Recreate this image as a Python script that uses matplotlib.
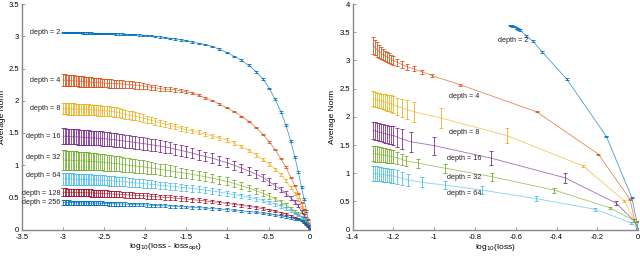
import matplotlib
matplotlib.use("Agg")
import matplotlib.pyplot as plt
from matplotlib.ticker import FormatStrFormatter

plt.rcParams['font.family'] = ['Liberation Sans', 'DejaVu Sans']

# matlab default colour order
colors = ['#0072BD', '#D95319', '#EDB120', '#7E2F8E', '#77AC30', '#4DBEEE', '#A2142F', '#0072BD']

# ---- left panel: norm vs log10(loss - loss_opt)
depths_left = ['2', '4', '8', '16', '32', '64', '128', '256']
x_left = [-3.00, -2.98, -2.96, -2.94, -2.92, -2.90, -2.88, -2.86, -2.84, -2.82, -2.80,
          -2.78, -2.76, -2.74, -2.72, -2.70, -2.68, -2.66, -2.64, -2.62, -2.60,
          -2.575, -2.55, -2.525, -2.50, -2.47, -2.44, -2.41, -2.38, -2.35, -2.32,
          -2.28, -2.24, -2.20, -2.16, -2.12, -2.08, -2.03, -1.98, -1.93, -1.88,
          -1.82, -1.76, -1.70, -1.64, -1.57, -1.50, -1.43, -1.35, -1.27, -1.19,
          -1.10, -1.01, -0.92, -0.83, -0.74, -0.65, -0.57, -0.49, -0.42, -0.35,
          -0.29, -0.23, -0.18, -0.14, -0.10, -0.07, -0.04, -0.02, 0.00]

y_d2 = [3.06, 3.06, 3.06, 3.06, 3.06, 3.058, 3.058, 3.056, 3.056, 3.055, 3.055,
        3.054, 3.053, 3.052, 3.052, 3.051, 3.05, 3.05, 3.049, 3.048, 3.047,
        3.046, 3.045, 3.045, 3.044, 3.043, 3.042, 3.041, 3.04, 3.038, 3.037,
        3.035, 3.033, 3.03, 3.028, 3.025, 3.022, 3.018, 3.014, 3.008, 3.0,
        2.99, 2.98, 2.97, 2.96, 2.945, 2.93, 2.91, 2.89, 2.87, 2.845,
        2.80, 2.75, 2.69, 2.63, 2.55, 2.45, 2.34, 2.19, 2.02, 1.83,
        1.62, 1.37, 1.12, 0.90, 0.66, 0.48, 0.29, 0.16, 0.02]
e_d2 = [0.01, 0.01, 0.01, 0.01, 0.01, 0.01, 0.01, 0.01, 0.01, 0.01, 0.01,
        0.01, 0.01, 0.01, 0.01, 0.01, 0.01, 0.01, 0.01, 0.01, 0.01,
        0.01, 0.01, 0.01, 0.01, 0.01, 0.01, 0.01, 0.01, 0.01, 0.01,
        0.01, 0.01, 0.01, 0.01, 0.01, 0.01, 0.01, 0.01, 0.01, 0.01,
        0.01, 0.01, 0.01, 0.01, 0.01, 0.01, 0.01, 0.01, 0.01, 0.01,
        0.012, 0.012, 0.012, 0.013, 0.013, 0.014, 0.014, 0.015, 0.015, 0.015,
        0.015, 0.015, 0.015, 0.015, 0.014, 0.013, 0.012, 0.01, 0.01]

y_d4 = [2.32, 2.32, 2.318, 2.316, 2.314, 2.312, 2.31, 2.308, 2.306, 2.304, 2.302,
        2.30, 2.298, 2.296, 2.294, 2.292, 2.29, 2.288, 2.286, 2.284, 2.282,
        2.28, 2.278, 2.276, 2.274, 2.272, 2.27, 2.268, 2.266, 2.264, 2.262,
        2.26, 2.255, 2.25, 2.245, 2.24, 2.235, 2.23, 2.22, 2.21, 2.20,
        2.19, 2.18, 2.175, 2.17, 2.155, 2.14, 2.12, 2.085, 2.045, 2.005,
        1.95, 1.89, 1.83, 1.76, 1.68, 1.58, 1.48, 1.36, 1.24, 1.10,
        0.97, 0.81, 0.68, 0.56, 0.42, 0.31, 0.19, 0.11, 0.02]
e_d4 = [0.09, 0.09, 0.089, 0.088, 0.087, 0.086, 0.085, 0.084, 0.083, 0.082, 0.081,
        0.08, 0.079, 0.078, 0.077, 0.076, 0.075, 0.074, 0.073, 0.072, 0.071,
        0.07, 0.069, 0.068, 0.067, 0.066, 0.065, 0.064, 0.063, 0.062, 0.061,
        0.06, 0.058, 0.056, 0.054, 0.052, 0.05, 0.048, 0.045, 0.042, 0.04,
        0.037, 0.034, 0.031, 0.028, 0.025, 0.022, 0.018, 0.015, 0.012, 0.01,
        0.01, 0.01, 0.01, 0.01, 0.01, 0.01, 0.01, 0.01, 0.01, 0.01,
        0.01, 0.01, 0.01, 0.01, 0.01, 0.01, 0.01, 0.01, 0.01]

y_d8 = [1.88, 1.88, 1.878, 1.876, 1.875, 1.874, 1.872, 1.87, 1.869, 1.868, 1.867,
        1.866, 1.865, 1.864, 1.862, 1.86, 1.859, 1.858, 1.856, 1.855, 1.853,
        1.851, 1.849, 1.847, 1.845, 1.842, 1.838, 1.834, 1.829, 1.824, 1.818,
        1.80, 1.79, 1.78, 1.77, 1.76, 1.745, 1.73, 1.715, 1.70, 1.68,
        1.66, 1.64, 1.62, 1.60, 1.575, 1.55, 1.53, 1.51, 1.48, 1.455,
        1.42, 1.39, 1.34, 1.29, 1.23, 1.16, 1.09, 1.02, 0.94, 0.85,
        0.76, 0.65, 0.56, 0.47, 0.35, 0.27, 0.17, 0.10, 0.02]
e_d8 = [0.09, 0.09, 0.09, 0.09, 0.09, 0.09, 0.089, 0.088, 0.088, 0.087, 0.086,
        0.086, 0.085, 0.085, 0.084, 0.084, 0.083, 0.083, 0.082, 0.082, 0.081,
        0.08, 0.08, 0.079, 0.078, 0.077, 0.076, 0.075, 0.074, 0.073, 0.072,
        0.07, 0.068, 0.066, 0.064, 0.062, 0.06, 0.058, 0.055, 0.052, 0.05,
        0.047, 0.044, 0.041, 0.039, 0.037, 0.035, 0.034, 0.033, 0.032, 0.031,
        0.03, 0.03, 0.03, 0.029, 0.028, 0.027, 0.026, 0.025, 0.024, 0.023,
        0.022, 0.021, 0.02, 0.02, 0.018, 0.016, 0.014, 0.012, 0.01]

y_d16 = [1.45, 1.45, 1.448, 1.446, 1.445, 1.444, 1.442, 1.44, 1.439, 1.438, 1.437,
         1.436, 1.434, 1.432, 1.43, 1.428, 1.426, 1.425, 1.424, 1.422, 1.42,
         1.418, 1.416, 1.414, 1.412, 1.408, 1.404, 1.40, 1.396, 1.392, 1.387,
         1.38, 1.374, 1.367, 1.36, 1.352, 1.345, 1.337, 1.328, 1.318, 1.308,
         1.296, 1.284, 1.27, 1.25, 1.23, 1.21, 1.19, 1.16, 1.135, 1.11,
         1.075, 1.04, 1.00, 0.955, 0.91, 0.86, 0.81, 0.745, 0.68, 0.62,
         0.56, 0.49, 0.43, 0.37, 0.28, 0.22, 0.14, 0.08, 0.02]
e_d16 = [0.12, 0.12, 0.12, 0.12, 0.119, 0.119, 0.118, 0.118, 0.117, 0.117, 0.116,
         0.116, 0.115, 0.115, 0.114, 0.114, 0.113, 0.113, 0.112, 0.112, 0.111,
         0.111, 0.11, 0.11, 0.11, 0.109, 0.108, 0.107, 0.106, 0.105, 0.104,
         0.103, 0.102, 0.101, 0.10, 0.099, 0.098, 0.097, 0.096, 0.095, 0.093,
         0.091, 0.089, 0.088, 0.086, 0.084, 0.082, 0.08, 0.079, 0.077, 0.075,
         0.073, 0.07, 0.067, 0.064, 0.061, 0.058, 0.055, 0.051, 0.047, 0.043,
         0.039, 0.034, 0.03, 0.026, 0.022, 0.018, 0.014, 0.012, 0.01]

y_d32 = [1.08, 1.08, 1.078, 1.077, 1.076, 1.075, 1.074, 1.072, 1.071, 1.07, 1.069,
         1.068, 1.066, 1.065, 1.063, 1.062, 1.06, 1.058, 1.056, 1.054, 1.052,
         1.05, 1.048, 1.046, 1.044, 1.04, 1.036, 1.032, 1.028, 1.024, 1.02,
         1.01, 1.005, 1.0, 0.994, 0.988, 0.982, 0.975, 0.966, 0.957, 0.948,
         0.937, 0.925, 0.913, 0.90, 0.886, 0.872, 0.857, 0.84, 0.82, 0.80,
         0.775, 0.748, 0.718, 0.682, 0.645, 0.605, 0.565, 0.52, 0.475, 0.43,
         0.385, 0.33, 0.285, 0.245, 0.19, 0.15, 0.10, 0.06, 0.02]
e_d32 = [0.15, 0.15, 0.149, 0.148, 0.147, 0.146, 0.145, 0.144, 0.143, 0.142, 0.141,
         0.14, 0.139, 0.138, 0.137, 0.136, 0.135, 0.134, 0.133, 0.132, 0.131,
         0.13, 0.129, 0.128, 0.127, 0.125, 0.123, 0.121, 0.119, 0.117, 0.115,
         0.113, 0.111, 0.109, 0.107, 0.105, 0.103, 0.101, 0.098, 0.095, 0.092,
         0.089, 0.086, 0.083, 0.08, 0.078, 0.076, 0.074, 0.072, 0.07, 0.068,
         0.065, 0.062, 0.059, 0.056, 0.052, 0.048, 0.045, 0.041, 0.038, 0.034,
         0.031, 0.028, 0.025, 0.022, 0.019, 0.016, 0.013, 0.011, 0.01]

y_d64 = [0.79, 0.79, 0.789, 0.788, 0.787, 0.786, 0.785, 0.784, 0.783, 0.782, 0.781,
         0.78, 0.779, 0.778, 0.777, 0.776, 0.775, 0.774, 0.773, 0.772, 0.771,
         0.77, 0.768, 0.767, 0.765, 0.763, 0.76, 0.757, 0.754, 0.751, 0.748,
         0.744, 0.74, 0.736, 0.731, 0.726, 0.721, 0.715, 0.709, 0.703, 0.697,
         0.69, 0.683, 0.675, 0.667, 0.658, 0.649, 0.639, 0.627, 0.614, 0.60,
         0.583, 0.565, 0.546, 0.525, 0.503, 0.478, 0.453, 0.425, 0.395, 0.362,
         0.332, 0.295, 0.262, 0.23, 0.19, 0.155, 0.11, 0.07, 0.02]
e_d64 = [0.09, 0.09, 0.09, 0.089, 0.089, 0.088, 0.088, 0.087, 0.087, 0.086, 0.086,
         0.085, 0.085, 0.084, 0.084, 0.083, 0.083, 0.082, 0.082, 0.081, 0.081,
         0.08, 0.08, 0.079, 0.078, 0.077, 0.076, 0.075, 0.074, 0.073, 0.072,
         0.071, 0.07, 0.069, 0.068, 0.067, 0.066, 0.064, 0.062, 0.06, 0.058,
         0.056, 0.054, 0.053, 0.052, 0.051, 0.05, 0.048, 0.046, 0.044, 0.042,
         0.04, 0.038, 0.036, 0.034, 0.032, 0.03, 0.028, 0.026, 0.024, 0.022,
         0.021, 0.02, 0.018, 0.016, 0.014, 0.012, 0.011, 0.01, 0.01]

y_d128 = [0.58, 0.58, 0.579, 0.579, 0.578, 0.578, 0.577, 0.576, 0.576, 0.575, 0.575,
          0.574, 0.573, 0.572, 0.572, 0.571, 0.57, 0.569, 0.568, 0.567, 0.566,
          0.565, 0.564, 0.562, 0.56, 0.558, 0.556, 0.554, 0.552, 0.55, 0.548,
          0.545, 0.542, 0.539, 0.536, 0.533, 0.53, 0.526, 0.521, 0.517, 0.512,
          0.507, 0.502, 0.496, 0.49, 0.482, 0.475, 0.466, 0.456, 0.445, 0.434,
          0.422, 0.408, 0.394, 0.378, 0.362, 0.344, 0.326, 0.306, 0.285, 0.262,
          0.24, 0.215, 0.19, 0.17, 0.14, 0.115, 0.085, 0.055, 0.02]
e_d128 = [0.06, 0.06, 0.06, 0.059, 0.059, 0.059, 0.058, 0.058, 0.058, 0.057, 0.057,
          0.057, 0.056, 0.056, 0.056, 0.055, 0.055, 0.055, 0.054, 0.054, 0.054,
          0.053, 0.053, 0.052, 0.052, 0.051, 0.05, 0.05, 0.049, 0.048, 0.047,
          0.046, 0.045, 0.044, 0.043, 0.042, 0.042, 0.041, 0.04, 0.039, 0.038,
          0.037, 0.036, 0.035, 0.034, 0.033, 0.032, 0.031, 0.03, 0.029, 0.028,
          0.027, 0.026, 0.025, 0.024, 0.023, 0.022, 0.021, 0.02, 0.019, 0.017,
          0.016, 0.015, 0.013, 0.012, 0.011, 0.01, 0.008, 0.007, 0.005]

y_d256 = [0.42, 0.42, 0.42, 0.419, 0.419, 0.418, 0.418, 0.417, 0.417, 0.416, 0.416,
          0.415, 0.415, 0.414, 0.414, 0.413, 0.413, 0.412, 0.412, 0.411, 0.41,
          0.41, 0.409, 0.408, 0.406, 0.405, 0.404, 0.402, 0.401, 0.40, 0.398,
          0.397, 0.395, 0.393, 0.391, 0.389, 0.387, 0.385, 0.382, 0.379, 0.376,
          0.373, 0.369, 0.366, 0.362, 0.357, 0.352, 0.347, 0.341, 0.335, 0.328,
          0.32, 0.311, 0.302, 0.291, 0.28, 0.267, 0.255, 0.241, 0.228, 0.213,
          0.199, 0.183, 0.167, 0.153, 0.135, 0.115, 0.09, 0.06, 0.02]
e_d256 = [0.035, 0.035, 0.035, 0.035, 0.034, 0.034, 0.034, 0.034, 0.034, 0.033, 0.033,
          0.033, 0.033, 0.033, 0.032, 0.032, 0.032, 0.032, 0.032, 0.031, 0.031,
          0.031, 0.031, 0.03, 0.03, 0.03, 0.03, 0.029, 0.029, 0.029, 0.028,
          0.028, 0.027, 0.027, 0.027, 0.026, 0.026, 0.026, 0.025, 0.025, 0.024,
          0.024, 0.023, 0.023, 0.022, 0.022, 0.021, 0.02, 0.02, 0.019, 0.019,
          0.018, 0.018, 0.017, 0.016, 0.016, 0.015, 0.014, 0.014, 0.013, 0.012,
          0.011, 0.011, 0.01, 0.009, 0.008, 0.007, 0.006, 0.006, 0.005]

ys_left = [y_d2, y_d4, y_d8, y_d16, y_d32, y_d64, y_d128, y_d256]
es_left = [e_d2, e_d4, e_d8, e_d16, e_d32, e_d64, e_d128, e_d256]
label_y_left = [3.06, 2.32, 1.88, 1.45, 1.12, 0.84, 0.56, 0.42]

# ---- right panel: norm vs log10(loss)
depths_right = ['2', '4', '8', '16', '32', '64']
rx_d2 = [-0.63, -0.62, -0.61, -0.60, -0.59, -0.58, -0.55, -0.515, -0.47, -0.35, -0.155, -0.031, -0.006, 0.0]
ry_d2 = [3.62, 3.61, 3.60, 3.58, 3.56, 3.54, 3.44, 3.34, 3.15, 2.67, 1.65, 0.57, 0.14, 0.02]
re_d2 = [0.015, 0.015, 0.015, 0.015, 0.015, 0.015, 0.015, 0.015, 0.015, 0.015, 0.015, 0.015, 0.01, 0.01]

rx_d4 = [-1.30, -1.29, -1.28, -1.27, -1.26, -1.25, -1.24, -1.23, -1.22, -1.21, -1.20, -1.18,
         -1.16, -1.135, -1.10, -1.06, -1.01, -0.873, -0.498, -0.195, -0.04, -0.015, 0.0]
ry_d4 = [3.27, 3.23, 3.19, 3.16, 3.13, 3.10, 3.08, 3.06, 3.04, 3.02, 3.00, 2.97,
         2.93, 2.89, 2.85, 2.80, 2.73, 2.57, 2.09, 1.34, 0.54, 0.14, 0.02]
re_d4 = [0.15, 0.14, 0.13, 0.12, 0.11, 0.10, 0.095, 0.09, 0.085, 0.08, 0.075, 0.065,
         0.055, 0.05, 0.045, 0.04, 0.025, 0.015, 0.01, 0.01, 0.01, 0.01, 0.01]

rx_d8 = [-1.30, -1.29, -1.28, -1.27, -1.26, -1.25, -1.24, -1.23, -1.22, -1.21, -1.20,
         -1.184, -1.16, -1.135, -1.098, -0.967, -0.645, -0.27, -0.067, -0.015, 0.0]
ry_d8 = [2.32, 2.31, 2.30, 2.29, 2.28, 2.27, 2.26, 2.25, 2.24, 2.23, 2.22,
         2.19, 2.16, 2.13, 2.09, 1.98, 1.67, 1.13, 0.51, 0.14, 0.02]
re_d8 = [0.13, 0.13, 0.13, 0.13, 0.13, 0.13, 0.14, 0.14, 0.14, 0.15, 0.15,
         0.15, 0.16, 0.17, 0.18, 0.18, 0.13, 0.02, 0.02, 0.01, 0.01]

rx_d16 = [-1.30, -1.29, -1.28, -1.27, -1.26, -1.25, -1.24, -1.23, -1.22, -1.21, -1.20,
          -1.18, -1.16, -1.115, -1.0, -0.723, -0.359, -0.108, -0.02, 0.0]
ry_d16 = [1.76, 1.75, 1.74, 1.73, 1.72, 1.71, 1.70, 1.69, 1.68, 1.675, 1.67,
          1.64, 1.61, 1.56, 1.49, 1.27, 0.92, 0.47, 0.16, 0.02]
re_d16 = [0.155, 0.155, 0.155, 0.155, 0.155, 0.16, 0.16, 0.16, 0.16, 0.165, 0.165,
          0.17, 0.18, 0.18, 0.16, 0.13, 0.09, 0.04, 0.02, 0.01]

rx_d32 = [-1.30, -1.29, -1.28, -1.27, -1.26, -1.25, -1.24, -1.23, -1.22, -1.21, -1.20,
          -1.18, -1.16, -1.14, -1.078, -0.947, -0.718, -0.41, -0.14, -0.02, 0.0]
ry_d32 = [1.35, 1.345, 1.34, 1.335, 1.33, 1.325, 1.32, 1.31, 1.305, 1.30, 1.29,
          1.27, 1.25, 1.22, 1.18, 1.09, 0.94, 0.70, 0.39, 0.16, 0.02]
re_d32 = [0.14, 0.14, 0.135, 0.135, 0.13, 0.13, 0.125, 0.125, 0.12, 0.12, 0.115,
          0.11, 0.10, 0.09, 0.08, 0.08, 0.07, 0.045, 0.02, 0.02, 0.01]

rx_d64 = [-1.30, -1.29, -1.28, -1.27, -1.26, -1.25, -1.24, -1.23, -1.22, -1.21, -1.20,
          -1.18, -1.16, -1.127, -1.062, -0.947, -0.764, -0.50, -0.21, -0.034, 0.0]
ry_d64 = [1.00, 0.995, 0.99, 0.985, 0.98, 0.975, 0.97, 0.965, 0.96, 0.955, 0.95,
          0.93, 0.91, 0.88, 0.84, 0.79, 0.70, 0.55, 0.36, 0.12, 0.02]
re_d64 = [0.13, 0.13, 0.13, 0.13, 0.125, 0.125, 0.125, 0.12, 0.12, 0.12, 0.12,
          0.12, 0.12, 0.10, 0.09, 0.075, 0.075, 0.045, 0.025, 0.015, 0.01]

xs_right = [rx_d2, rx_d4, rx_d8, rx_d16, rx_d32, rx_d64]
ys_right = [ry_d2, ry_d4, ry_d8, ry_d16, ry_d32, ry_d64]
es_right = [re_d2, re_d4, re_d8, re_d16, re_d32, re_d64]
label_pos_right = [(-0.613, 3.36), (-0.855, 2.37), (-0.855, 1.73), (-0.855, 1.26), (-0.855, 0.92), (-0.855, 0.64)]


def style(ax):
    for s in ['top', 'right']:
        ax.spines[s].set_visible(False)
    for s in ['left', 'bottom']:
        ax.spines[s].set_color('#888888')
        ax.spines[s].set_linewidth(1.0)
    ax.tick_params(direction='in', length=2, width=0.6, color='#888888', labelsize=5.5, pad=2)
    ax.tick_params(axis='x', pad=3)
    ax.xaxis.set_major_formatter(FormatStrFormatter('%g'))
    ax.yaxis.set_major_formatter(FormatStrFormatter('%g'))


fig = plt.figure(figsize=(6.4, 2.56), dpi=100)
ax1 = fig.add_axes([0.034, 0.103, 0.45, 0.881])
ax2 = fig.add_axes([0.551, 0.103, 0.446, 0.881])

for i in range(len(depths_left)):
    ax1.plot(x_left, ys_left[i], color=colors[i], lw=0.6, alpha=0.7)
    ax1.errorbar(x_left, ys_left[i], yerr=es_left[i], fmt='none', ecolor=colors[i],
                 elinewidth=0.6, capsize=1.5, capthick=0.6)
    ax1.text(-3.03, label_y_left[i], 'depth = ' + depths_left[i], fontsize=5.2,
             ha='right', va='center', color='#222222')

ax1.set_xlim(-3.5, 0)
ax1.set_ylim(0, 3.5)
ax1.set_xticks([-3.5, -3, -2.5, -2, -1.5, -1, -0.5, 0])
ax1.set_yticks([0, 0.5, 1, 1.5, 2, 2.5, 3, 3.5])
ax1.set_xlabel(r'log$_{10}$(loss - loss$_{\rm opt}$)', fontsize=6, labelpad=1)
ax1.set_ylabel('Average Norm', fontsize=6, labelpad=2)
style(ax1)

for i in range(len(depths_right)):
    ax2.plot(xs_right[i], ys_right[i], color=colors[i], lw=0.6, alpha=0.7)
    ax2.errorbar(xs_right[i], ys_right[i], yerr=es_right[i], fmt='none', ecolor=colors[i],
                 elinewidth=0.6, capsize=1.5, capthick=0.6)
    ax2.text(label_pos_right[i][0], label_pos_right[i][1], 'depth = ' + depths_right[i],
             fontsize=5.2, ha='center', va='center', color='#222222')

ax2.set_xlim(-1.4, 0)
ax2.set_ylim(0, 4)
ax2.set_xticks([-1.4, -1.2, -1, -0.8, -0.6, -0.4, -0.2, 0])
ax2.set_yticks([0, 0.5, 1, 1.5, 2, 2.5, 3, 3.5, 4])
ax2.set_xlabel(r'log$_{10}$(loss)', fontsize=6, labelpad=1)
ax2.set_ylabel('Average Norm', fontsize=6, labelpad=2)
style(ax2)

fig.savefig('out.png', dpi=100)
